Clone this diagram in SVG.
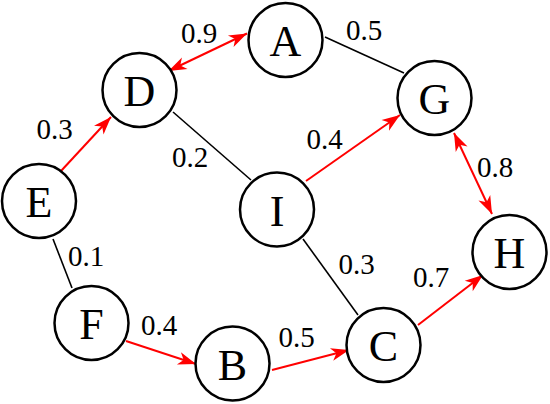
<svg xmlns="http://www.w3.org/2000/svg" width="550" height="404" viewBox="0 0 550 404">
<style>
.node circle{fill:#fff;stroke:#000;stroke-width:2.5}
.node text{font-family:"Liberation Serif","Times New Roman",serif;font-size:44px;text-anchor:middle;fill:#000}
.lbl{font-family:"Liberation Serif","Times New Roman",serif;font-size:29px;text-anchor:middle;fill:#000}
.blk{stroke:#000;stroke-width:1.6;fill:none}
.red{stroke:#f00;stroke-width:2;fill:none}
</style>
<defs>
<marker id="ah" markerUnits="userSpaceOnUse" viewBox="-19 -7 20 14" refX="0" refY="0" markerWidth="20" markerHeight="14" orient="auto-start-reverse">
<path d="M0,0 L-18,-6.5 L-13,0 L-18,6.5 Z" fill="#f00"/>
</marker>
</defs>
<rect width="550" height="404" fill="#fff"/>
<g id="connectors">
<line class="red" x1="168.5" y1="71" x2="247" y2="33.5" marker-start="url(#ah)" marker-end="url(#ah)"/>
<line class="blk" x1="325" y1="37" x2="404" y2="73"/>
<line class="red" x1="61" y1="171" x2="111" y2="117" marker-end="url(#ah)"/>
<line class="blk" x1="173" y1="112" x2="251" y2="180"/>
<line class="red" x1="306" y1="181" x2="400" y2="115" marker-end="url(#ah)"/>
<line class="red" x1="454" y1="133" x2="492" y2="214" marker-start="url(#ah)" marker-end="url(#ah)"/>
<line class="blk" x1="53" y1="239" x2="72" y2="288"/>
<line class="red" x1="126" y1="341" x2="196" y2="364" marker-end="url(#ah)"/>
<line class="red" x1="272" y1="370" x2="349" y2="350" marker-end="url(#ah)"/>
<line class="blk" x1="303" y1="239" x2="358" y2="315"/>
<line class="red" x1="418" y1="325" x2="483" y2="275" marker-end="url(#ah)"/>
</g>
<g id="labels">
<text class="lbl" x="199" y="43">0.9</text>
<text class="lbl" x="364" y="40">0.5</text>
<text class="lbl" x="54.5" y="139">0.3</text>
<text class="lbl" x="190" y="167">0.2</text>
<text class="lbl" x="324.5" y="149">0.4</text>
<text class="lbl" x="495" y="177">0.8</text>
<text class="lbl" x="86" y="266">0.1</text>
<text class="lbl" x="159" y="335">0.4</text>
<text class="lbl" x="356.5" y="274">0.3</text>
<text class="lbl" x="431" y="287">0.7</text>
<text class="lbl" x="296.5" y="347">0.5</text>
</g>
<g id="A" class="node"><circle cx="285.5" cy="40" r="37"/><text x="285.5" y="56">A</text></g>
<g id="D" class="node"><circle cx="139.5" cy="90" r="37"/><text x="139.5" y="106">D</text></g>
<g id="G" class="node"><circle cx="434.5" cy="98" r="37"/><text x="434.5" y="114">G</text></g>
<g id="E" class="node"><circle cx="39" cy="201" r="37"/><text x="39" y="217">E</text></g>
<g id="I" class="node"><circle cx="277" cy="209.5" r="37"/><text x="277" y="225.5">I</text></g>
<g id="H" class="node"><circle cx="509.5" cy="252" r="37"/><text x="509.5" y="268">H</text></g>
<g id="F" class="node"><circle cx="91.5" cy="323" r="37"/><text x="91.5" y="339">F</text></g>
<g id="B" class="node"><circle cx="232.5" cy="363.5" r="37"/><text x="232.5" y="379.5">B</text></g>
<g id="C" class="node"><circle cx="383.5" cy="345" r="37"/><text x="383.5" y="361">C</text></g>
</svg>
